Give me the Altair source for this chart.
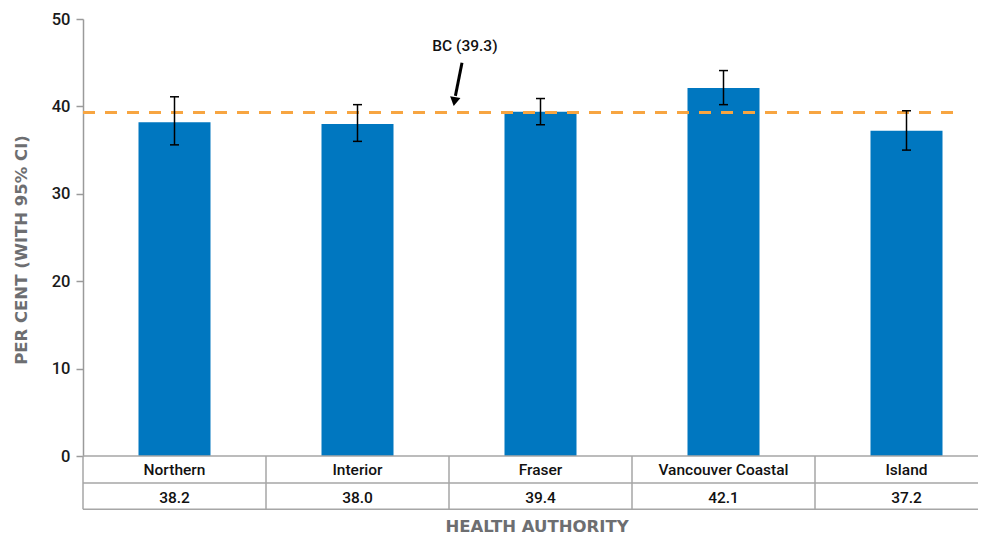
import altair as alt
import pandas as pd

categories = ["Northern", "Interior", "Fraser", "Vancouver Coastal", "Island"]
values = [38.2, 38.0, 39.4, 42.1, 37.2]
ci_low = [35.6, 36.0, 37.9, 40.2, 35.0]
ci_high = [41.1, 40.2, 40.9, 44.1, 39.5]
bc_value = 39.3
y_ticks = [0, 10, 20, 30, 40, 50]

FONT = "Roboto, DejaVu Sans Condensed, sans-serif"
TITLE_FONT = "DejaVu Sans, Liberation Sans, sans-serif"
W, H = 895, 437
BAND = 183.0
PXU = H / 50.0
XMAX = -0.5 + W / BAND
ROW1, ROW2 = -3.1, -6.1
CAP = 4.5 / BAND

df = pd.DataFrame({
    "idx": list(range(len(categories))),
    "cat": categories,
    "val": values,
    "lo": ci_low,
    "hi": ci_high,
})
df["cx1"] = df["idx"] - CAP
df["cx2"] = df["idx"] + CAP
df["ty1"] = ROW1 / 2
df["ty2"] = (ROW1 + ROW2) / 2 - 0.15

xs = alt.Scale(domain=[-0.5, XMAX], nice=False, zero=False, padding=0)
ys = alt.Scale(domain=[0, 50], nice=False)

X = alt.X("idx:Q", scale=xs, axis=None)

bars = alt.Chart(df).mark_bar(size=72, color="#0077c0").encode(
    x=X,
    y=alt.Y("val:Q", scale=ys, axis=alt.Axis(
        values=y_ticks, grid=False, title=None, tickSize=7, tickColor="#9a9a9a",
        domainColor="#9a9a9a", domainWidth=1.5, tickWidth=1.5,
        labelFontSize=16.5, labelColor="#1a1a1a", labelFont=FONT, labelFontWeight=500,
        labelPadding=6)),
)

bc_df = pd.DataFrame({"y": [bc_value], "x1": [-0.5], "x2": [4.29]})
dash = alt.Chart(bc_df).mark_rule(color="#f7a541", strokeWidth=3, strokeDash=[12, 10]).encode(
    x=alt.X("x1:Q", scale=xs, axis=None), x2=alt.X2("x2"), y=alt.Y("y:Q", scale=ys))

err = alt.Chart(df).mark_rule(color="black", strokeWidth=1.5).encode(
    x=X, y=alt.Y("lo:Q", scale=ys), y2=alt.Y2("hi"))
cap_lo = alt.Chart(df).mark_rule(color="black", strokeWidth=1.5).encode(
    x=alt.X("cx1:Q", scale=xs, axis=None), x2=alt.X2("cx2"), y=alt.Y("lo:Q", scale=ys))
cap_hi = alt.Chart(df).mark_rule(color="black", strokeWidth=1.5).encode(
    x=alt.X("cx1:Q", scale=xs, axis=None), x2=alt.X2("cx2"), y=alt.Y("hi:Q", scale=ys))

hlines = pd.DataFrame({"y": [0, ROW1, ROW2], "x1": [-0.5] * 3, "x2": [XMAX] * 3})
vlines = pd.DataFrame({"x": [-0.5, 0.5, 1.5, 2.5, 3.5], "y1": [0] * 5, "y2": [ROW2] * 5})
grid_h = alt.Chart(hlines).mark_rule(color="#a6a6a6", strokeWidth=1.5).encode(
    x=alt.X("x1:Q", scale=xs, axis=None), x2=alt.X2("x2"), y=alt.Y("y:Q", scale=ys))
grid_v = alt.Chart(vlines).mark_rule(color="#a6a6a6", strokeWidth=1.5).encode(
    x=alt.X("x:Q", scale=xs, axis=None), y=alt.Y("y1:Q", scale=ys), y2=alt.Y2("y2"))

cat_text = alt.Chart(df).mark_text(
    font=FONT, fontSize=15.5, fontWeight=500, color="#111111", baseline="middle").encode(
    x=X, y=alt.Y("ty1:Q", scale=ys), text="cat:N")
val_text = alt.Chart(df).mark_text(
    font=FONT, fontSize=15.5, fontWeight=500, color="#111111", baseline="middle").encode(
    x=X, y=alt.Y("ty2:Q", scale=ys), text=alt.Text("val:Q", format=".1f"))

ann_df = pd.DataFrame({"x": [1.587], "y": [46.9], "t": [f"BC ({bc_value})"]})
ann = alt.Chart(ann_df).mark_text(font=FONT, fontSize=15.5, fontWeight=500, color="#111111",
                                  baseline="middle").encode(
    x=alt.X("x:Q", scale=xs, axis=None), y=alt.Y("y:Q", scale=ys), text="t:N")
arrow_df = pd.DataFrame({"x1": [1.571], "y1": [45.0], "x2": [1.535], "y2": [41.2]})
arrow_line = alt.Chart(arrow_df).mark_rule(color="black", strokeWidth=3).encode(
    x=alt.X("x1:Q", scale=xs, axis=None), y=alt.Y("y1:Q", scale=ys),
    x2=alt.X2("x2"), y2=alt.Y2("y2"))
head_df = pd.DataFrame({"x": [1.530], "y": [40.55]})
arrow_head = alt.Chart(head_df).mark_point(shape="triangle-down", size=110, filled=True,
                                           color="black", opacity=1, angle=10).encode(
    x=alt.X("x:Q", scale=xs, axis=None), y=alt.Y("y:Q", scale=ys))

xt_df = pd.DataFrame({"x": [(537 - 83) / BAND - 0.5], "y": [50 - (527 - 19) / PXU],
                      "t": ["HEALTH AUTHORITY"]})
xtitle = alt.Chart(xt_df).mark_text(
    font=TITLE_FONT, fontSize=16.5, fontWeight="bold", color="#6d6e71", baseline="middle").encode(
    x=alt.X("x:Q", scale=xs, axis=None), y=alt.Y("y:Q", scale=ys), text="t:N")
yt_df = pd.DataFrame({"x": [-0.5 - 61 / BAND], "y": [50 - (250 - 19) / PXU],
                      "t": ["PER CENT (WITH 95% CI)"]})
ytitle = alt.Chart(yt_df).mark_text(
    font=TITLE_FONT, fontSize=16.5, fontWeight="bold", color="#6d6e71", angle=270,
    baseline="middle").encode(
    x=alt.X("x:Q", scale=xs, axis=None), y=alt.Y("y:Q", scale=ys), text="t:N")

chart = alt.layer(
    bars, dash, err, cap_lo, cap_hi, grid_h, grid_v, cat_text, val_text,
    ann, arrow_line, arrow_head, xtitle, ytitle
).properties(
    width=W, height=H,
    padding={"left": 5, "top": 3, "right": 0, "bottom": 0},
).configure_view(strokeWidth=0)

chart.save("out.html", embed_options={"renderer": "svg", "actions": False})
